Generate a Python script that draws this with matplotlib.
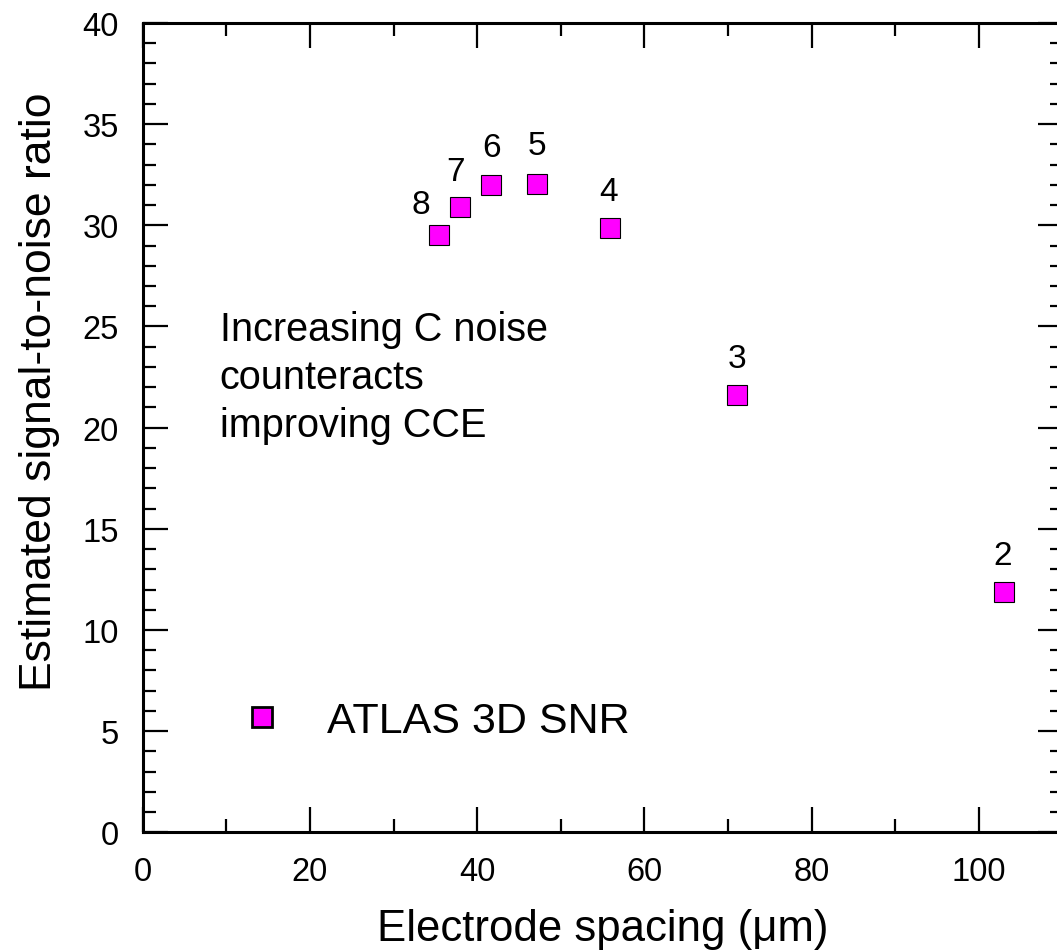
import numpy as np
import matplotlib
matplotlib.use('Agg')
import matplotlib.pyplot as plt
from matplotlib.lines import Line2D
from matplotlib.ticker import MultipleLocator

plt.rcParams['font.family'] = ['Liberation Sans', 'DejaVu Sans']

# Electrode spacing (um) vs estimated SNR, one point per electrode count
spacing = [103.0, 71.1, 55.9, 47.1, 41.6, 38.0, 35.4]
snr = [11.9, 21.6, 29.85, 32.05, 32.0, 30.9, 29.5]
n_electrodes = ['2', '3', '4', '5', '6', '7', '8']

# label offsets in pixels (dx, dy) relative to each marker
label_offsets = [(-1, 36), (0, 37), (-2, 37), (0, 38), (1, 37), (-5, 36), (-18, 31)]

fig = plt.figure(figsize=(10.57, 9.53), dpi=100)
ax = fig.add_axes([0.135, 0.1256, 0.8703, 0.8492])

ax.plot(spacing, snr, linestyle='none', marker='s', markersize=14.5,
        markerfacecolor='#ff00ff', markeredgecolor='black', markeredgewidth=0.8)

for x, y, lab, off in zip(spacing, snr, n_electrodes, label_offsets):
    ax.annotate(lab, (x, y), xytext=off, textcoords='offset pixels',
                ha='center', va='center', fontsize=24)

ax.text(9.2, 25.8, 'Increasing C noise\ncounteracts\nimproving CCE',
        ha='left', va='top', fontsize=28.5, linespacing=1.32)

ax.set_xlim(0, 110)
ax.set_ylim(0, 40)
ax.xaxis.set_major_locator(MultipleLocator(20))
ax.xaxis.set_minor_locator(MultipleLocator(10))
ax.yaxis.set_major_locator(MultipleLocator(5))
ax.yaxis.set_minor_locator(MultipleLocator(1))

ax.tick_params(which='both', direction='in', top=True, right=True,
               labelsize=23.5, pad=17)
ax.tick_params(which='major', length=18, width=1.6)
ax.tick_params(which='minor', length=9.5, width=1.6)
for s in ax.spines.values():
    s.set_linewidth(2.2)

ax.set_xlabel('Electrode spacing (\u03bcm)', fontsize=31.5)
ax.set_ylabel('Estimated signal-to-noise ratio', fontsize=32)
ax.xaxis.set_label_coords(0.5, -0.094)
ax.yaxis.set_label_coords(-0.09, 0.545)

handle = Line2D([], [], linestyle='none', marker='s', markersize=15,
                markerfacecolor='#ff00ff', markeredgecolor='black',
                markeredgewidth=2)
ax.legend([handle], ['ATLAS 3D SNR'], loc='center left',
          bbox_to_anchor=(0.106, 0.137), frameon=False, fontsize=31,
          borderpad=0, borderaxespad=0, handlelength=1.0, handletextpad=1.02)

fig.savefig('out.png', dpi=100)
